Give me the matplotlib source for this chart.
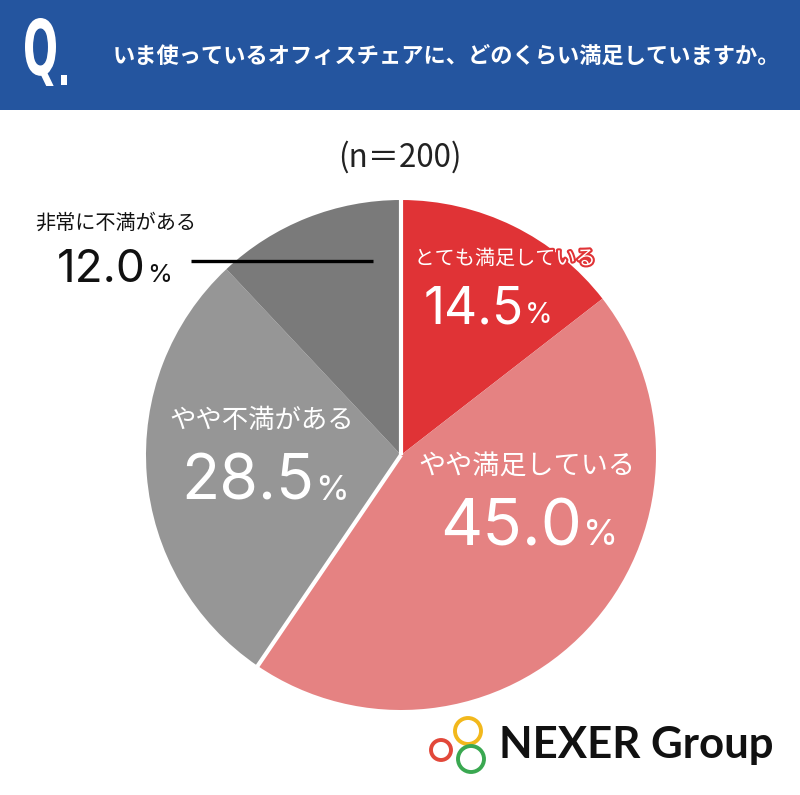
import matplotlib
matplotlib.use("Agg")
import numpy as np
import matplotlib.pyplot as plt
import matplotlib.patheffects as pe
from matplotlib.patches import Rectangle, Circle, PathPatch
from matplotlib.textpath import TextPath
from matplotlib.font_manager import FontProperties
from matplotlib.transforms import Affine2D

plt.rcParams["font.family"] = ["Noto Sans CJK JP", "DejaVu Sans"]

question = "いま使っているオフィスチェアに、どのくらい満足していますか。"
sample = "(n＝200)"
labels = ["とても満足している", "やや満足している", "やや不満がある", "非常に不満がある"]
values = [14.5, 45.0, 28.5, 12.0]
colors = ["#E03336", "#E58282", "#969696", "#7A7A7A"]

W, H = 800, 795
fig = plt.figure(figsize=(W / 100, H / 100), dpi=100)

# background axes in pixel coordinates
bg = fig.add_axes([0, 0, 1, 1])
bg.set_xlim(0, W)
bg.set_ylim(H, 0)
bg.axis("off")
bg.add_patch(Rectangle((0, 0), W, 110, color="#24559F", lw=0))

# pie
cx, cy, r = 401, 455, 255
pie_ax = fig.add_axes([(cx - r) / W, (H - cy - r) / H, 2 * r / W, 2 * r / H])
wedges, _ = pie_ax.pie(values, colors=colors, startangle=90, counterclock=False,
                       wedgeprops=dict(linewidth=0))
# white separators only between the "satisfied" and "dissatisfied" groups
for ang in (wedges[0].theta2, wedges[1].theta1):
    a = np.deg2rad(ang)
    pie_ax.plot([0, np.cos(a) * 1.01], [0, np.sin(a) * 1.01], color="white",
                lw=3.0, solid_capstyle="butt")
pie_ax.set_xlim(-1, 1)
pie_ax.set_ylim(-1, 1)
pie_ax.axis("off")

# overlay for text
ax = fig.add_axes([0, 0, 1, 1])
ax.set_xlim(0, W)
ax.set_ylim(H, 0)
ax.axis("off")
ax.patch.set_alpha(0)

# header "Q." drawn condensed
qpath = TextPath((0, 0), "Q", size=100, prop=FontProperties(family="DejaVu Sans", weight="bold"))
ext = qpath.get_extents()
sx = 31 / ext.width
sy = 68 / ext.height
tr = Affine2D().translate(-ext.x0, -ext.y0).scale(sx, -sy).translate(25, 86) + ax.transData
ax.add_patch(PathPatch(qpath, transform=tr, color="white", lw=0))
ax.add_patch(Rectangle((61, 75), 6, 10, color="white", lw=0))
ax.text(113, 56, question, color="white", fontsize=16.0, va="center", ha="left",
        fontweight="bold")

ax.text(400, 157, sample, fontsize=22.5, ha="center", va="center", color="#222222")

num_font = ["Inter", "DejaVu Sans"]


def pct(x, y, v, size, color):
    s = f"{v:.1f}"
    ax.text(x, y, s, fontsize=size, ha="right", va="baseline", color=color,
            family=num_font)
    ax.text(x + 1, y, "%", fontsize=size * 0.55, ha="left", va="baseline",
            color=color, family=num_font)


# とても満足している
t = ax.text(505, 259, labels[0], fontsize=14.5, ha="center", va="center", color="white")
t.set_path_effects([pe.withStroke(linewidth=3, foreground="#E03336")])
pct(524, 323, values[0], 37, "white")

# やや満足している
ax.text(527, 467, labels[1], fontsize=19.5, ha="center", va="center", color="white")
pct(582, 545, values[1], 47, "white")

# やや不満がある
ax.text(262, 421, labels[2], fontsize=19, ha="center", va="center", color="white")
pct(314, 500, values[2], 45, "white")

# 非常に不満がある (outside label)
ax.text(35, 223, labels[3], fontsize=14.5, ha="left", va="center", color="#111111")
pct(146, 282, values[3], 33, "#111111")
ax.plot([191, 373], [261, 261], color="black", lw=2.4, solid_capstyle="butt")

# logo
for (lx, ly, lr, lc) in [(468, 731, 13, "#F2B81C"), (441, 750, 10, "#E2483A"),
                         (471, 759, 13, "#3AA851")]:
    ax.add_patch(Circle((lx, ly), lr, fill=False, ec=lc, lw=2.8))
ax.text(499, 745, "NEXER Group", fontsize=31.5, fontweight="bold", ha="left",
        va="center", color="#111111", family=["Lato", "DejaVu Sans"])

fig.savefig("out.png", dpi=100)
